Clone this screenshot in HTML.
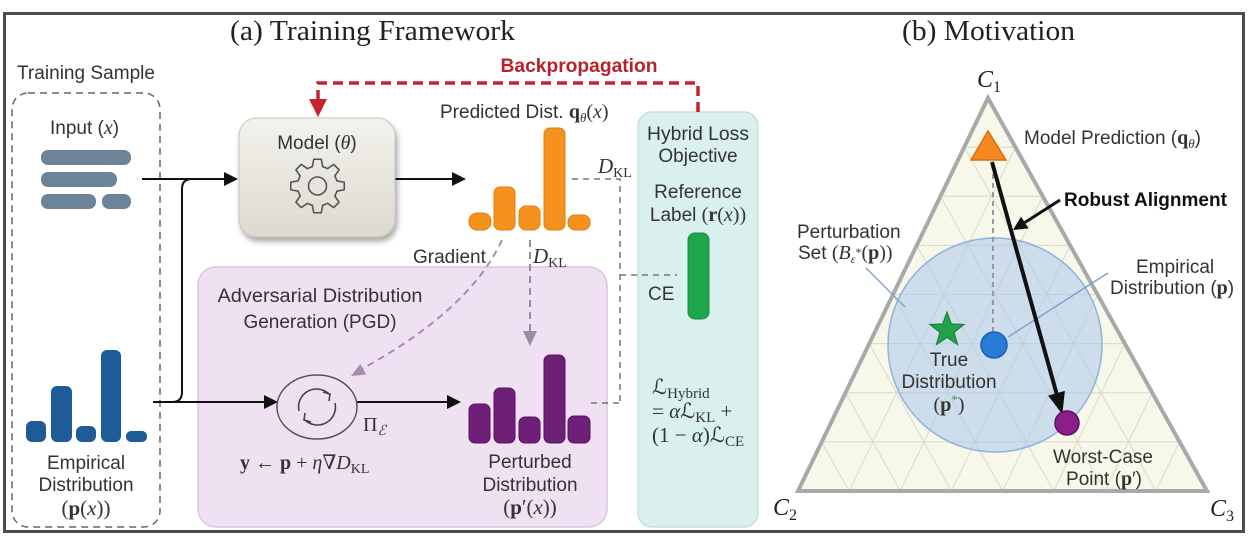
<!DOCTYPE html>
<html><head><meta charset="utf-8">
<style>
html,body{margin:0;padding:0;background:#fff;}
svg{display:block;}
.s{font-family:"Liberation Sans","DejaVu Sans",sans-serif;font-size:19px;fill:#333;}
.m{font-family:"Liberation Serif","DejaVu Serif",serif;}
.i{font-family:"Liberation Serif","DejaVu Serif",serif;font-style:italic;}
.b{font-family:"Liberation Serif","DejaVu Serif",serif;font-weight:bold;}
</style></head><body>
<svg width="1256" height="544" viewBox="0 0 1256 544" xmlns="http://www.w3.org/2000/svg">
<defs>
  <linearGradient id="mg" x1="0" y1="0" x2="0" y2="1">
    <stop offset="0" stop-color="#f3f2ec"/>
    <stop offset="1" stop-color="#dcdad0"/>
  </linearGradient>
  <filter id="sh" x="-20%" y="-20%" width="140%" height="150%">
    <feDropShadow dx="2" dy="4" stdDeviation="3" flood-color="#000" flood-opacity="0.35"/>
  </filter>
  <clipPath id="tri"><polygon points="988,98 798,491 1207,491"/></clipPath>
</defs>

<rect x="0" y="0" width="1256" height="544" fill="#fff"/>
<!-- outer frame -->
<rect x="4.5" y="13.5" width="1239" height="518" fill="none" stroke="#4d4d4d" stroke-width="3"/>

<!-- titles -->
<text x="230" y="40" class="m" font-size="29" fill="#222" textLength="285" lengthAdjust="spacingAndGlyphs">(a) Training Framework</text>
<text x="902" y="40" class="m" font-size="29" fill="#222" textLength="173" lengthAdjust="spacingAndGlyphs">(b) Motivation</text>

<!-- Training sample -->
<text x="17" y="79" class="s" textLength="138" lengthAdjust="spacingAndGlyphs">Training Sample</text>
<rect x="12" y="93" width="148" height="434" rx="16" fill="none" stroke="#666" stroke-width="1.5" stroke-dasharray="7 5"/>
<text x="50" y="134" class="s">Input (<tspan class="i" font-size="20">x</tspan>)</text>
<g fill="#6d8397">
  <rect x="41" y="150" width="90" height="15" rx="7"/>
  <rect x="41" y="172" width="76" height="15" rx="7"/>
  <rect x="41" y="194" width="55" height="15" rx="7"/>
  <rect x="102" y="194" width="29" height="15" rx="7"/>
</g>
<g fill="#1f5b96">
  <rect x="26" y="421" width="20" height="21" rx="6"/>
  <rect x="51" y="386" width="21" height="56" rx="6"/>
  <rect x="76" y="426" width="20" height="16" rx="6"/>
  <rect x="101" y="350" width="20" height="92" rx="6"/>
  <rect x="126" y="431" width="21" height="11" rx="5"/>
</g>
<text x="86" y="469" class="s" text-anchor="middle">Empirical</text>
<text x="86" y="491" class="s" text-anchor="middle">Distribution</text>
<text x="86" y="515" class="m" font-size="21" text-anchor="middle" fill="#333">(<tspan font-weight="bold">p</tspan>(<tspan font-style="italic">x</tspan>))</text>

<!-- PGD box -->
<rect x="198" y="267" width="409" height="260" rx="18" fill="#efe0f2" stroke="#dcc4e3" stroke-width="1.5"/>
<text x="320" y="302" class="s" text-anchor="middle" textLength="205" lengthAdjust="spacingAndGlyphs">Adversarial Distribution</text>
<text x="320" y="328" class="s" text-anchor="middle">Generation (PGD)</text>

<!-- Teal box -->
<rect x="638" y="112" width="120" height="415" rx="14" fill="#daf0ed" stroke="#c3e2de" stroke-width="1.5"/>
<text x="698" y="140" class="s" text-anchor="middle" textLength="102" lengthAdjust="spacingAndGlyphs">Hybrid Loss</text>
<text x="698" y="162" class="s" text-anchor="middle">Objective</text>
<text x="698" y="198" class="s" text-anchor="middle">Reference</text>
<text x="698" y="221" class="s" text-anchor="middle">Label <tspan class="m" font-size="20">(<tspan font-weight="bold">r</tspan>(<tspan font-style="italic">x</tspan>))</tspan></text>
<rect x="688" y="233" width="21" height="86" rx="7" fill="#1ea64c" stroke="#178a3d" stroke-width="1"/>
<text x="648" y="300" class="s">CE</text>
<text x="652" y="394" class="m" font-size="21" fill="#333">ℒ<tspan font-size="15" dy="4">Hybrid</tspan></text>
<text x="652" y="418" class="m" font-size="21" fill="#333">= <tspan font-style="italic">α</tspan>ℒ<tspan font-size="15" dy="4">KL</tspan><tspan dy="-4"> +</tspan></text>
<text x="652" y="442" class="m" font-size="21" fill="#333">(1 − <tspan font-style="italic">α</tspan>)ℒ<tspan font-size="15" dy="4">CE</tspan></text>

<!-- connectors left -->
<g stroke="#111" stroke-width="2" fill="none">
  <path d="M142 179 H228"/>
  <path d="M153 402 H268"/>
  <path d="M172 402 Q182 402 182 392 V189 Q182 179 192 179"/>
  <path d="M395 179 H456"/>
  <path d="M357 402 H451"/>
</g>
<g fill="#111">
  <polygon points="238,179 224,172 224,186"/>
  <polygon points="278,402 264,395 264,409"/>
  <polygon points="466,179 452,172 452,186"/>
  <polygon points="461,402 447,395 447,409"/>
</g>

<!-- Model box -->
<rect x="239" y="118" width="156" height="119" rx="18" fill="url(#mg)" stroke="#c9c7bd" stroke-width="1" filter="url(#sh)"/>
<text x="317" y="149" class="s" text-anchor="middle">Model (<tspan class="i" font-size="20">θ</tspan>)</text>
<g transform="translate(317.5,186)" fill="none" stroke="#555" stroke-width="1.6" stroke-linejoin="round">
  <path d="M-5.18,-19.32 L-3.76,-26.74 L3.76,-26.74 L5.18,-19.32 A20 20 0 0 1 10,-17.32 L16.25,-21.56 L21.56,-16.25 L17.32,-10 A20 20 0 0 1 19.32,-5.18 L26.74,-3.76 L26.74,3.76 L19.32,5.18 A20 20 0 0 1 17.32,10 L21.56,16.25 L16.25,21.56 L10,17.32 A20 20 0 0 1 5.18,19.32 L3.76,26.74 L-3.76,26.74 L-5.18,19.32 A20 20 0 0 1 -10,17.32 L-16.25,21.56 L-21.56,16.25 L-17.32,10 A20 20 0 0 1 -19.32,5.18 L-26.74,3.76 L-26.74,-3.76 L-19.32,-5.18 A20 20 0 0 1 -17.32,-10 L-21.56,-16.25 L-16.25,-21.56 L-10,-17.32 A20 20 0 0 1 -5.18,-19.32 Z"/>
  <circle cx="0" cy="0" r="9"/>
</g>

<!-- Backpropagation -->
<path d="M698 112 V83 H318 V100" fill="none" stroke="#c8232c" stroke-width="3.5" stroke-dasharray="10 6"/>
<polygon points="318,117 309,99 327,99" fill="#c8232c"/>
<text x="579" y="72" class="s" font-weight="bold" font-size="17.5" fill="#b8222a" text-anchor="middle" style="fill:#b8222a" textLength="157" lengthAdjust="spacingAndGlyphs">Backpropagation</text>

<!-- Predicted dist -->
<text x="440" y="118" class="s">Predicted Dist. <tspan class="b" font-size="20">q</tspan><tspan class="i" font-size="13" dy="4">θ</tspan><tspan class="m" font-size="20" dy="-4">(</tspan><tspan class="i" font-size="20">x</tspan><tspan class="m" font-size="20">)</tspan></text>
<g fill="#f5921e" stroke="#e07c10" stroke-width="1">
  <rect x="469" y="213" width="22" height="17" rx="8"/>
  <rect x="494" y="187" width="21" height="43" rx="6"/>
  <rect x="519" y="206" width="21" height="24" rx="7"/>
  <rect x="544" y="128" width="21" height="102" rx="6"/>
  <rect x="568" y="215" width="22" height="15" rx="7"/>
</g>

<!-- gray dashed KL lines -->
<path d="M572 179 H620 V403 M591 403 H620 M620 275 H677" fill="none" stroke="#777" stroke-width="1.5" stroke-dasharray="6 5"/>
<text x="598" y="173" class="i" font-size="21" fill="#333">D<tspan class="m" font-style="normal" font-size="14" dy="4">KL</tspan></text>
<text x="413" y="263" class="s">Gradient</text>
<text x="533" y="263" class="i" font-size="21" fill="#333">D<tspan class="m" font-style="normal" font-size="14" dy="4">KL</tspan></text>

<!-- gradient arrow -->
<path d="M502 240 Q470 310 360 370" fill="none" stroke="#a58cb3" stroke-width="2" stroke-dasharray="7 5"/>
<polygon points="351,376 366.2,374.5 360.3,364" fill="#a58cb3"/>
<!-- D_KL down arrow -->
<path d="M530 240 V332" fill="none" stroke="#9a8aa5" stroke-width="2" stroke-dasharray="7 5"/>
<polygon points="530,346 523,331 537,331" fill="#9a8aa5"/>

<!-- PGD circle -->
<ellipse cx="317" cy="407" rx="40" ry="32" fill="#efe0f2" stroke="#555" stroke-width="1.5"/>
<g fill="none" stroke="#444" stroke-width="1.6">
  <path d="M299 411 A18 18 0 0 1 329 394"/>
  <polyline points="323,392 330,394 329,401"/>
  <path d="M335 403 A18 18 0 0 1 305 420"/>
  <polyline points="311,422 304,420 305,413"/>
</g>
<text x="363" y="431" class="m" font-size="20" fill="#333">Π<tspan class="i" font-size="14" dy="4">ℰ</tspan></text>
<text x="240" y="469" class="m" font-size="20" fill="#333"><tspan font-weight="bold">y</tspan> ← <tspan font-weight="bold">p</tspan> + <tspan font-style="italic">η</tspan>∇<tspan font-style="italic">D</tspan><tspan font-size="14" dy="4">KL</tspan></text>

<!-- Perturbed bars -->
<g fill="#6e2079" stroke="#55155f" stroke-width="1">
  <rect x="469" y="404" width="21" height="39" rx="6"/>
  <rect x="494" y="388" width="21" height="55" rx="6"/>
  <rect x="519" y="417" width="21" height="26" rx="6"/>
  <rect x="544" y="355" width="21" height="88" rx="6"/>
  <rect x="568" y="416" width="22" height="27" rx="6"/>
</g>
<text x="530" y="468" class="s" text-anchor="middle">Perturbed</text>
<text x="530" y="491" class="s" text-anchor="middle">Distribution</text>
<text x="530" y="514" class="m" font-size="21" text-anchor="middle" fill="#333">(<tspan font-weight="bold">p</tspan>′(<tspan font-style="italic">x</tspan>))</text>

<!-- ===== Right panel ===== -->
<polygon points="988,98 798,491 1207,491" fill="#f8f8ea"/>
<g clip-path="url(#tri)" stroke="#dedecf" stroke-width="1.2">
  <line x1="964.25" y1="147.1" x2="1015.4" y2="147.1"/>
  <line x1="940.5" y1="196.25" x2="1042.75" y2="196.25"/>
  <line x1="916.75" y1="245.4" x2="1070.1" y2="245.4"/>
  <line x1="893" y1="294.5" x2="1097.5" y2="294.5"/>
  <line x1="869.25" y1="343.6" x2="1124.9" y2="343.6"/>
  <line x1="845.5" y1="392.75" x2="1152.25" y2="392.75"/>
  <line x1="821.75" y1="441.9" x2="1179.6" y2="441.9"/>
  <line x1="849.1" y1="491" x2="1015.4" y2="147.1"/>
  <line x1="900.25" y1="491" x2="1042.75" y2="196.25"/>
  <line x1="951.4" y1="491" x2="1070.1" y2="245.4"/>
  <line x1="1002.5" y1="491" x2="1097.5" y2="294.5"/>
  <line x1="1053.6" y1="491" x2="1124.9" y2="343.6"/>
  <line x1="1104.75" y1="491" x2="1152.25" y2="392.75"/>
  <line x1="1155.9" y1="491" x2="1179.6" y2="441.9"/>
  <line x1="1155.9" y1="491" x2="964.25" y2="147.1"/>
  <line x1="1104.75" y1="491" x2="940.5" y2="196.25"/>
  <line x1="1053.6" y1="491" x2="916.75" y2="245.4"/>
  <line x1="1002.5" y1="491" x2="893" y2="294.5"/>
  <line x1="951.4" y1="491" x2="869.25" y2="343.6"/>
  <line x1="900.25" y1="491" x2="845.5" y2="392.75"/>
  <line x1="849.1" y1="491" x2="821.75" y2="441.9"/>
</g>
<!-- perturbation circle -->
<circle cx="995" cy="345" r="107" fill="#a9c6ec" fill-opacity="0.55" stroke="#8fb2da" stroke-width="1.5"/>
<polygon points="988,98 798,491 1207,491" fill="none" stroke="#a9a9a9" stroke-width="4"/>

<text x="977" y="87" class="i" font-size="24" fill="#222">C<tspan class="m" font-style="normal" font-size="16" dy="5">1</tspan></text>
<text x="773" y="515" class="i" font-size="24" fill="#222">C<tspan class="m" font-style="normal" font-size="16" dy="5">2</tspan></text>
<text x="1210" y="516" class="i" font-size="24" fill="#222">C<tspan class="m" font-style="normal" font-size="16" dy="5">3</tspan></text>

<!-- dashed vertical -->
<path d="M993 165 V332" stroke="#999" stroke-width="2" stroke-dasharray="5 4" fill="none"/>
<!-- leader lines -->
<path d="M866 268 L905 307" stroke="#7fa3cc" stroke-width="1.5" fill="none"/>
<path d="M1008 337 L1108 273" stroke="#7fa3cc" stroke-width="1.5" fill="none"/>

<!-- markers -->
<polygon points="947,312 951.4,323.9 964.1,324.4 954.1,332.3 957.6,344.6 947,337.5 936.4,344.6 939.9,332.3 929.9,324.4 942.6,323.9" fill="#22a24a" stroke="#157a35" stroke-width="1"/>
<circle cx="994" cy="345" r="13" fill="#2a7ad8" stroke="#1c5fae" stroke-width="1.5"/>
<polygon points="988,131 971,160 1006,160" fill="#f5891f" stroke="#d96f10" stroke-width="1.5"/>

<!-- main arrow -->
<line x1="992" y1="162" x2="1056.6" y2="393.7" stroke="#111" stroke-width="4"/>
<polygon points="1062,413 1064.3,391.6 1048.9,395.9" fill="#111" stroke="#111" stroke-width="1"/>
<circle cx="1067" cy="423" r="12" fill="#8a1f8c" stroke="#5e1060" stroke-width="1.5"/>

<!-- robust alignment arrow -->
<line x1="1060" y1="200" x2="1024.8" y2="222.5" stroke="#111" stroke-width="3"/>
<polygon points="1013,230 1028.6,228.4 1021,216.6" fill="#111"/>

<!-- right labels -->
<text x="1024" y="144" class="s">Model Prediction (<tspan class="b" font-size="20">q</tspan><tspan class="i" font-size="13" dy="4">θ</tspan><tspan dy="-4">)</tspan></text>
<text x="1064" y="206" class="s" font-weight="bold" fill="#111" style="fill:#111">Robust Alignment</text>
<text x="797" y="238" class="s">Perturbation</text>
<text x="798" y="259" class="s">Set <tspan class="m" font-size="20">(<tspan font-style="italic">B</tspan><tspan font-style="italic" font-size="12" dy="4">ε</tspan><tspan font-size="12" dy="-7">*</tspan><tspan dy="3">(</tspan><tspan font-weight="bold">p</tspan>))</tspan></text>
<text x="1136" y="273" class="s">Empirical</text>
<text x="1110" y="294" class="s">Distribution (<tspan class="b" font-size="20">p</tspan>)</text>
<text x="949" y="366" class="s" text-anchor="middle">True</text>
<text x="949" y="388" class="s" text-anchor="middle">Distribution</text>
<text x="949" y="411" class="m" font-size="20" text-anchor="middle" fill="#333">(<tspan font-weight="bold">p</tspan><tspan font-size="13" dy="-7" fill="#22a24a">*</tspan><tspan dy="7">)</tspan></text>
<text x="1103" y="463" class="s" text-anchor="middle">Worst-Case</text>
<text x="1104" y="485" class="s" text-anchor="middle">Point (<tspan class="b" font-size="20">p</tspan>′)</text>
</svg>
</body></html>
